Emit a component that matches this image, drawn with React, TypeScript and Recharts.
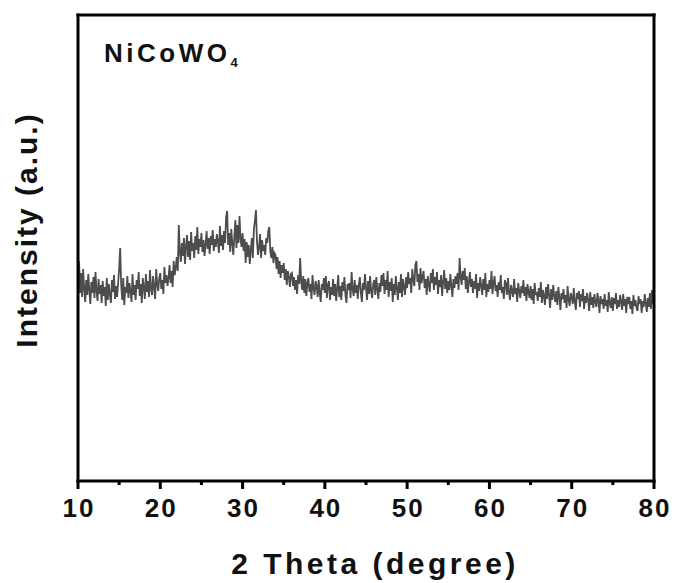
import React from "react";
import { Line, LineChart, ReferenceLine, XAxis, YAxis } from "recharts";

const startAngle = 10;
const stepAngle = 0.125;
const intensity = [
  205, 222, 190, 210, 186, 214, 195, 181, 203, 188, 209, 193, 179, 201, 190, 206,
  185, 211, 192, 182, 204, 189, 198, 180, 202, 187, 196, 177, 205, 183, 199, 188,
  180, 203, 191, 208, 184, 197, 186, 200, 214, 235, 198, 183, 205, 178, 196, 190,
  207, 185, 200, 192, 181, 209, 188, 198, 183, 203, 194, 211, 187, 199, 180, 205,
  196, 184, 209, 191, 202, 186, 213, 194, 188, 207, 196, 184, 214, 199, 192, 205,
  210, 194, 203, 189, 216, 200, 208, 197, 205, 218, 200, 212, 196, 222, 208, 215,
  226, 212, 258, 231, 221, 240, 227, 245, 219, 236, 248, 226, 242, 223, 251, 232,
  240, 225, 247, 233, 256, 229, 244, 236, 250, 231, 243, 227, 238, 252, 234, 245,
  229, 247, 238, 253, 232, 244, 236, 249, 241, 230, 257, 237, 248, 233, 252, 240,
  266, 272, 238, 250, 231, 254, 240, 228, 247, 263, 235, 258, 240, 267, 244, 236,
  250, 232, 244, 220, 241, 226, 238, 219, 233, 245, 225, 254, 262, 273, 242, 228,
  236, 249, 225, 243, 232, 238, 228, 245, 240, 252, 256, 231, 225, 236, 220, 230,
  228, 214, 226, 209, 222, 205, 218, 210, 220, 203, 214, 198, 212, 206, 196, 209,
  210, 197, 206, 193, 203, 189, 208, 199, 225, 201, 193, 207, 190, 204, 187, 200,
  205, 191, 199, 184, 208, 194, 188, 202, 197, 186, 203, 190, 181, 199, 193, 205,
  190, 207, 185, 198, 202, 183, 196, 188, 204, 187, 199, 182, 195, 208, 186, 197,
  183, 201, 192, 206, 188, 180, 199, 193, 200, 185, 211, 194, 187, 203, 190, 198,
  184, 198, 206, 190, 181, 200, 193, 209, 195, 183, 202, 189, 207, 192, 185, 199,
  203, 188, 206, 194, 184, 200, 191, 208, 197, 210, 189, 203, 193, 212, 186, 201,
  192, 205, 181, 199, 188, 207, 195, 183, 201, 190, 209, 186, 204, 196, 188, 206,
  195, 211, 199, 205, 190, 214, 203, 197, 218, 222, 201, 209, 193, 215, 200, 206,
  212, 195, 204, 188, 207, 199, 191, 210, 200, 214, 193, 206, 198, 211, 189, 203,
  196, 208, 187, 201, 213, 194, 205, 190, 202, 193, 209, 197, 186, 204, 195, 207,
  199, 210, 193, 225, 206, 198, 212, 203, 215, 194, 207, 190, 201, 211, 196, 204,
  190, 202, 194, 209, 185, 200, 192, 206, 197, 188, 204, 193, 210, 186, 199, 191,
  203, 194, 212, 189, 200, 207, 192, 198, 186, 201, 193, 208, 190, 196, 184, 203,
  199, 188, 205, 191, 183, 198, 192, 186, 204, 189, 195, 181, 200, 192, 185, 197,
  190, 203, 187, 196, 182, 199, 191, 185, 197, 183, 194, 179, 200, 188, 191, 182,
  195, 186, 201, 180, 193, 187, 178, 196, 184, 199, 188, 175, 194, 183, 198, 187,
  181, 192, 178, 196, 186, 173, 190, 184, 194, 180, 188, 175, 197, 183, 177, 190,
  186, 179, 195, 181, 173, 190, 184, 192, 176, 189, 182, 194, 174, 187, 180, 190,
  183, 172, 191, 178, 186, 175, 189, 181, 176, 190, 183, 170, 187, 179, 184, 174,
  189, 177, 183, 171, 191, 180, 175, 186, 172, 185, 179, 190, 174, 183, 176, 188,
  181, 173, 189, 177, 184, 170, 186, 179, 186, 174, 182, 169, 188, 177, 183, 175,
  172, 187, 179, 184, 170, 182, 176, 189, 180, 171, 185, 176, 190, 174, 193, 179,
  184,
];
const xTicks = [10, 15, 20, 25, 30, 35, 40, 45, 50, 55, 60, 65, 70, 75, 80];
const xMajor = [10, 20, 30, 40, 50, 60, 70, 80];
const xRange = [10, 80];
const yRange = [2, 468];

const data = intensity.map((v, i) => ({ angle: startAngle + i * stepAngle, intensity: v }));

const FONT = "'Liberation Sans', Arial, Helvetica, sans-serif";
const INK = "#111";

function XTick(props: any) {
  const { x, y, payload } = props;
  const major = xMajor.includes(payload.value);
  return (
    <g>
      <line x1={x} x2={x} y1={y} y2={y + (major ? 8 : 4)} stroke="#000" strokeWidth={3} />
      {major && (
        <text
          x={x + 1}
          y={y + 36}
          textAnchor="middle"
          fontFamily={FONT}
          fontWeight="bold"
          fontSize={26}
          letterSpacing={2}
          fill={INK}
          stroke="none"
        >
          {payload.value}
        </text>
      )}
    </g>
  );
}

export default function App() {
  return (
    <div style={{ position: "absolute", left: 0, top: 0, background: "#fff" }}>
      <LineChart
        width={678}
        height={583}
        data={data}
        margin={{ top: 14, right: 24, bottom: 0, left: 77 }}
      >
        <XAxis
          dataKey="angle"
          type="number"
          domain={xRange}
          ticks={xTicks}
          interval={0}
          height={102}
          tickSize={0}
          tickMargin={0}
          tickLine={false}
          tick={<XTick />}
          axisLine={false}
          label={(p: any) => {
            const vb = p.viewBox;
            return (
              <text
                x={vb.x + vb.width / 2 + 9}
                y={vb.y + 93}
                textAnchor="middle"
                fontFamily={FONT}
                fontWeight="bold"
                fontSize={30}
                letterSpacing={3.5}
                fill={INK}
              >
                2 Theta (degree)
              </text>
            );
          }}
        />
        <XAxis
          xAxisId="top"
          orientation="top"
          dataKey="angle"
          type="number"
          domain={xRange}
          height={1}
          tick={false}
          tickLine={false}
          axisLine={false}
          label={() => (
            <text x={104} y={62} fontFamily={FONT} fontWeight="bold" fontSize={26} letterSpacing={3.5} fill={INK}>
              NiCoWO
              <tspan fontSize={13} dy={5} letterSpacing={0}>4</tspan>
            </text>
          )}
        />
        <YAxis
          type="number"
          domain={yRange}
          width={1}
          tick={false}
          tickLine={false}
          axisLine={false}
          label={() => (
            <text
              x={37}
              y={230}
              transform="rotate(-90, 37, 230)"
              textAnchor="middle"
              fontFamily={FONT}
              fontWeight="bold"
              fontSize={30}
              letterSpacing={2}
              fill={INK}
            >
              Intensity (a.u.)
            </text>
          )}
        />
        <Line
          type="linear"
          dataKey="intensity"
          stroke="#4d4d4d"
          strokeWidth={1.8}
          dot={false}
          isAnimationActive={false}
        />
        {/* box frame */}
        <ReferenceLine x={xRange[0]} stroke="#000" strokeWidth={3} strokeLinecap="square" ifOverflow="visible" />
        <ReferenceLine x={xRange[1]} stroke="#000" strokeWidth={3} strokeLinecap="square" ifOverflow="visible" />
        <ReferenceLine y={yRange[0]} stroke="#000" strokeWidth={3} strokeLinecap="square" ifOverflow="visible" />
        <ReferenceLine y={yRange[1]} stroke="#000" strokeWidth={3} strokeLinecap="square" ifOverflow="visible" />
      </LineChart>
    </div>
  );
}
